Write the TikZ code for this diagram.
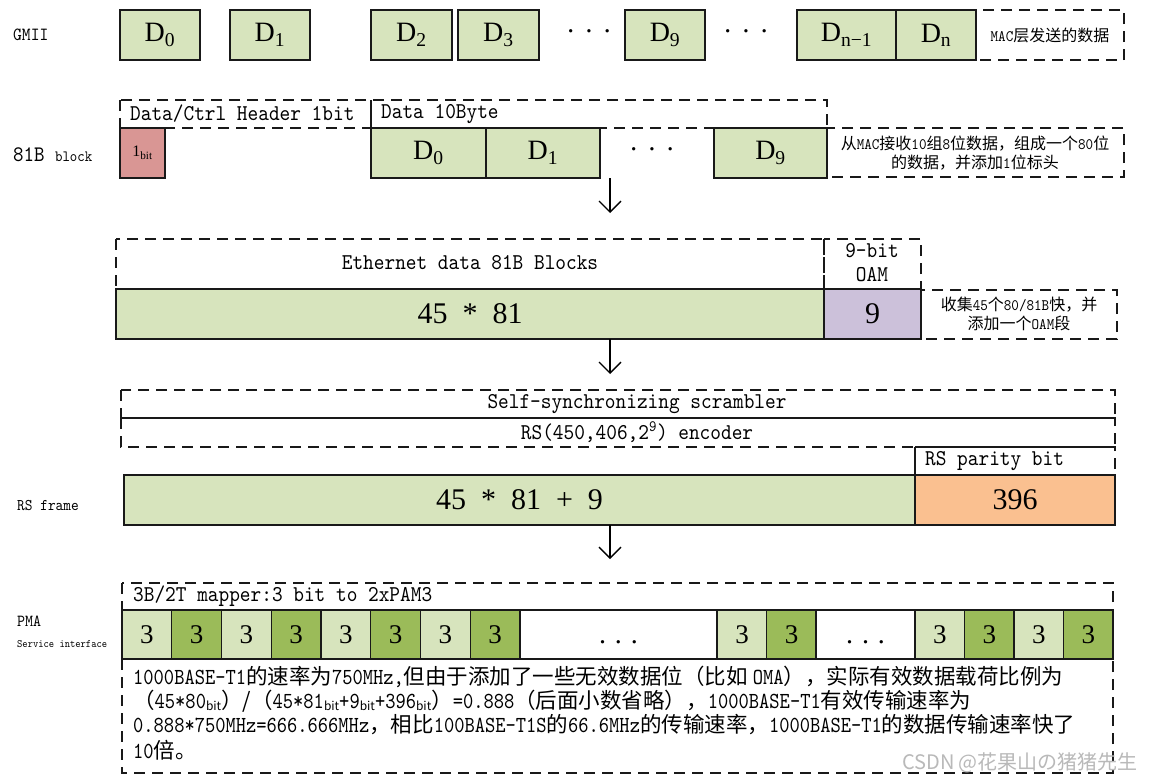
\documentclass[tikz,border=0pt]{standalone}
\usepackage{fontspec}
\setmainfont{Liberation Serif}
\newfontfamily\cjk{Noto Sans CJK SC}
\newfontfamily\sm[FakeStretch=0.9]{lmmono10-regular.otf}
\newfontfamily\smb[FakeStretch=0.85]{lmmono10-regular.otf}
\usetikzlibrary{arrows.meta}
\newcommand\myfs[1]{\fontsize{#1}{#1}\selectfont}
\newcommand\sbit{\raisebox{-2pt}{\myfs{12}bit}}
\newcommand\lt[1]{{\smb\myfs{23}#1}}
\definecolor{gr}{HTML}{D7E4BD}
\definecolor{dg}{HTML}{9BBB59}
\definecolor{rd}{HTML}{D99694}
\definecolor{pu}{HTML}{CCC1DA}
\definecolor{orr}{HTML}{FAC090}
\begin{document}
\begin{tikzpicture}[x=1pt,y=-1pt,
  blk/.style={draw=black!90, line width=1.3pt, inner sep=0pt, minimum height=50pt, font=\myfs{28}},
  cell/.style={blk, minimum width=49.75pt, minimum height=49pt, font=\myfs{27}},
  dsh/.style={draw=black!90, line width=1.3pt, dash pattern=on 11pt off 7pt},
  sol/.style={draw=black!90, line width=1.3pt},
  lbl/.style={inner sep=0pt, anchor=west},
  mono/.style={font=\sm\myfs{22.6}},
  note/.style={inner sep=0pt, align=center, font=\cjk\fontsize{16}{19}\selectfont},
  arr/.style={line width=1.3pt, -{Straight Barb[length=11pt,width=22pt]}},
  dotsx/.style={inner sep=0pt, font=\myfs{28}},
  expl/.style={inner sep=0pt, anchor=base west, font=\cjk\myfs{21.5}},
]
\fill[white] (0,0) rectangle (1150,782);
\useasboundingbox (0,0) rectangle (1150,782);

% ---------- GMII ----------
\node[lbl, font=\sm\myfs{18.6}] (lg) at (13,35) {GMII};
\draw[dsh] (976,10) rectangle (1124,60);
\node[blk, fill=gr, minimum width=80pt] (g0) at (160,35) {D\textsubscript{0}};
\node[blk, fill=gr, minimum width=80pt] (g1) at (270,35) {D\textsubscript{1}};
\node[blk, fill=gr, minimum width=81pt] (g2) at (411.5,35) {D\textsubscript{2}};
\node[blk, fill=gr, minimum width=81pt] (g3) at (498.5,35) {D\textsubscript{3}};
\node[dotsx] (gd1) at (589,35) {\textperiodcentered\hspace{9pt}\textperiodcentered\hspace{9pt}\textperiodcentered};
\node[blk, fill=gr, minimum width=80pt] (g9) at (665,35) {D\textsubscript{9}};
\node[dotsx] (gd2) at (746,35) {\textperiodcentered\hspace{9pt}\textperiodcentered\hspace{9pt}\textperiodcentered};
\node[blk, fill=gr, minimum width=99pt] (gn1) at (846.5,35) {D\textsubscript{n−1}};
\node[blk, fill=gr, minimum width=80pt] (gn) at (936,35) {D\textsubscript{n}};
\node[inner sep=0pt, font=\cjk\myfs{16}] (gnote) at (1050,35) {{\sm MAC}层发送的数据};

% ---------- 81B block ----------
\node[lbl, font=\sm\myfs{22.2}] (l81) at (13,155) {81B {\myfs{15.7}block}};
\draw[dsh] (120,100) rectangle (827,128);
\draw[sol] (371,100) -- (371,128);
\node[lbl, mono] (h1) at (130,114) {Data/Ctrl Header 1bit};
\node[lbl, mono] (h2) at (381,114) {Data 10Byte};
\draw[dsh] (827,128) rectangle (1124,177);
\node[blk, fill=rd, minimum width=45pt, font=\myfs{16}] (b1) at (142.5,153) {1\textsubscript{bit}};
\node[blk, fill=gr, minimum width=115pt] (c0) at (428.5,153) {D\textsubscript{0}};
\node[blk, fill=gr, minimum width=114pt] (c1) at (543,153) {D\textsubscript{1}};
\node[dotsx] (cd) at (652,153) {\textperiodcentered\hspace{9pt}\textperiodcentered\hspace{9pt}\textperiodcentered};
\node[blk, fill=gr, minimum width=113pt] (c9) at (770.5,153) {D\textsubscript{9}};
\node[note] (n81) at (975,153) {从{\sm MAC}接收{\sm 10}组{\sm 8}位数据，组成一个{\sm 80}位\\的数据，并添加{\sm 1}位标头};
\coordinate (a1s) at (610,178);
\coordinate (a1e) at (610,213);
\draw[arr] (a1s) -- (a1e);

% ---------- Ethernet 81B blocks ----------
\draw[dsh] (116,239) rectangle (824,289);
\draw[dsh] (824,239) rectangle (921,289);
\node[mono, inner sep=0pt] (eh) at (470,263) {Ethernet data 81B Blocks};
\node[inner sep=0pt, align=center, font=\sm\fontsize{22.6}{24}\selectfont] (oh) at (872,263) {9-bit\\OAM};
\draw[dsh] (921,290) rectangle (1117,339);
\node[blk, fill=gr, minimum width=708pt, font=\myfs{30}] (f1) at (470,314) {45\ \ *\ \ 81};
\node[blk, fill=pu, minimum width=97pt, font=\myfs{30}] (f2) at (872.5,314) {9};
\node[note] (n45) at (1019,314) {收集{\sm 45}个{\sm 80/81B}快，并\\添加一个{\sm OAM}段};
\coordinate (a2s) at (610,339);
\coordinate (a2e) at (610,374);
\draw[arr] (a2s) -- (a2e);

% ---------- RS frame ----------
\draw[dsh] (121,390) rectangle (1115,418);
\draw[dsh] (121,418) rectangle (1115,447);
\draw[dsh] (915,447) rectangle (1115,475);
\draw[sol] (915,455) -- (915,475);
\node[mono, inner sep=0pt] (s1) at (637,404) {Self-synchronizing scrambler};
\node[mono, inner sep=0pt] (s2) at (637,432) {RS(450,406,2\textsuperscript{9}) encoder};
\node[lbl, mono] (s3) at (925,461) {RS parity bit};
\node[lbl, font=\sm\myfs{16.3}] (lrs) at (17,506) {RS frame};
\node[blk, fill=gr, minimum width=791pt, font=\myfs{30}] (r1) at (519.5,500) {45\ \ *\ \ 81\ \ +\ \ 9};
\node[blk, fill=orr, minimum width=200pt, font=\myfs{30}] (r2) at (1015,500) {396};
\coordinate (a3s) at (610,525);
\coordinate (a3e) at (610,559);
\draw[arr] (a3s) -- (a3e);

% ---------- PMA ----------
\node[lbl, font=\sm\myfs{16.9}] (lp) at (17,621) {PMA};
\node[lbl, font=\sm\myfs{11.2}] (lsi) at (17,644) {Service interface};
\draw[dsh] (122,583) rectangle (1113,610);
\node[lbl, mono] (mh) at (133,596) {3B/2T mapper:3 bit to 2xPAM3};
\draw[dsh] (122,659) rectangle (1113,773);
\foreach \i/\x/\c in {1/146.875/gr, 2/196.625/dg, 3/246.375/gr, 4/296.125/dg, 5/345.875/gr, 6/395.625/dg, 7/445.375/gr, 8/495.125/dg, 9/742/gr, 10/791.5/dg, 11/939.75/gr, 12/989.25/dg, 13/1038.75/gr, 14/1088.25/dg}
  \node[cell, fill=\c] (p\i) at (\x,634.5) {3};
\node[blk, fill=white, minimum width=197pt, minimum height=49pt] (pw1) at (618.5,634.5) {.\hspace{9pt}.\hspace{9pt}.\vphantom{3}};
\node[blk, fill=white, minimum width=99pt, minimum height=49pt] (pw2) at (865.5,634.5) {.\hspace{9pt}.\hspace{9pt}.\vphantom{3}};

% ---------- explanation ----------
\node[expl] (t1) at (133,684) {\lt{1000BASE-T1}的速率为\lt{750MHz,}但由于添加了一些无效数据位（比如 \lt{OMA}），实际有效数据载荷比例为};
\node[expl] (t2) at (133,708) {（\lt{45*80}\sbit）/（\lt{45*81}\sbit\lt{+9}\sbit\lt{+396}\sbit）\lt{=0.888}（后面小数省略），\lt{1000BASE-T1}有效传输速率为};
\node[expl] (t3) at (133,732) {\lt{0.888*750MHz=666.666MHz}，相比\lt{100BASE-T1S}的\lt{66.6MHz}的传输速率，\lt{1000BASE-T1}的数据传输速率快了};
\node[expl] (t4) at (133,758) {\lt{10}倍。};
\node[inner sep=0pt, font=\cjk\myfs{20}, text=gray!55] (wm) at (1020,763) {CSDN @花果山の猪猪先生};
\end{tikzpicture}
\end{document}
